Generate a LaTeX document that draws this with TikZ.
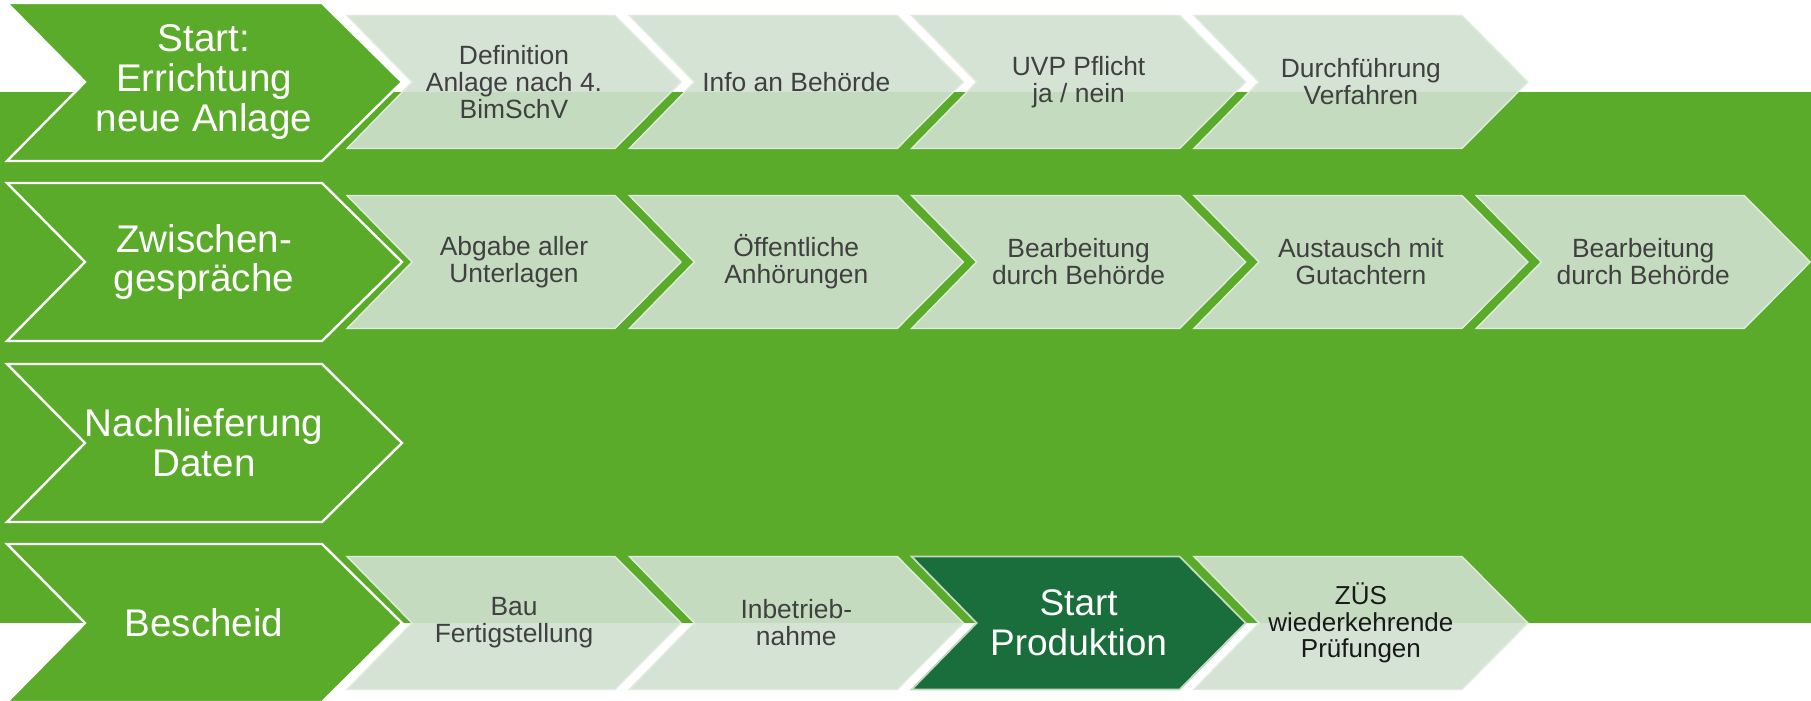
\documentclass[tikz,border=0pt]{standalone}
\usepackage{fontspec}
\setmainfont{Liberation Sans}
\definecolor{bggreen}{RGB}{90,171,41}
\definecolor{lightfill}{RGB}{209,225,208}
\definecolor{lightedge}{RGB}{224,236,221}
\definecolor{darkfill}{RGB}{26,110,60}
\definecolor{darkedge}{RGB}{196,218,190}
\definecolor{txtgray}{RGB}{64,64,64}
\newcommand\bigchev[3]{%
  \begin{scope}[shift={(0,#2)}]
    \path[bigchevstyle] (7,-79) -- (322,-79) -- (402,0) -- (322,79) -- (7,79) -- (85,0) -- cycle;
    \node[bigtext] (#1) at (204,0) {#3};
  \end{scope}}
\newcommand\smallchev[6]{%
  \begin{scope}[shift={(#2,#3)}]
    \path[#4] (0,-66.5) -- (268,-66.5) -- (334,0) -- (268,66.5) -- (0,66.5) -- (65,0) -- cycle;
    \node[#5] (#1) at (167,0) {#6};
  \end{scope}}
\begin{document}
\begin{tikzpicture}[x=0.5pt,y=-0.5pt,
  bigchevstyle/.style={fill=bggreen,draw=white,line width=1.2pt,line join=miter},
  bigtext/.style={text=white,align=center,inner sep=0pt,font=\fontsize{19.3}{19.8}\selectfont},
  lightchev/.style={fill=lightfill,fill opacity=0.9,draw=lightedge,line width=0.7pt},
  darkchev/.style={fill=darkfill,draw=darkedge,line width=0.9pt},
  smalltext/.style={text=txtgray,align=center,inner sep=0pt,font=\fontsize{13.2}{13.5}\selectfont},
  darktext/.style={text=white,align=center,inner sep=0pt,font=\fontsize{18.5}{20}\selectfont},
  blacktext/.style={text=black!90,align=center,inner sep=0pt,font=\fontsize{13}{13.3}\selectfont}]
\useasboundingbox (0,0) rectangle (1811,701);
\fill[white] (0,0) rectangle (1811,701);
\fill[bggreen] (0,92) rectangle (1811,623);
% big chevrons
\bigchev{b1}{82}{Start:\\Errichtung\\neue Anlage}
\bigchev{b2}{262}{Zwischen-\\gespräche}
\bigchev{b3}{443}{Nachlieferung\\Daten}
\bigchev{b4}{623}{Bescheid}
% row 1
\smallchev{r1a}{347}{82}{lightchev}{smalltext}{Definition\\Anlage nach 4.\\BimSchV}
\smallchev{r1b}{629.3}{82}{lightchev}{smalltext}{Info an Behörde}
\smallchev{r1c}{911.6}{82}{lightchev}{smalltext}{UVP Pflicht\\ja / nein}
\smallchev{r1d}{1193.9}{82}{lightchev}{smalltext}{Durchführung\\Verfahren}
% row 2
\smallchev{r2a}{347}{262}{lightchev}{smalltext}{Abgabe aller\\Unterlagen}
\smallchev{r2b}{629.3}{262}{lightchev}{smalltext}{Öffentliche\\Anhörungen}
\smallchev{r2c}{911.6}{262}{lightchev}{smalltext}{Bearbeitung\\durch Behörde}
\smallchev{r2d}{1193.9}{262}{lightchev}{smalltext}{Austausch mit\\Gutachtern}
\smallchev{r2e}{1476.2}{262}{lightchev}{smalltext}{Bearbeitung\\durch Behörde}
% row 4
\smallchev{r4a}{347}{623}{lightchev}{smalltext}{Bau\\Fertigstellung}
\smallchev{r4b}{629.3}{623}{lightchev}{smalltext}{Inbetrieb-\\nahme}
\smallchev{r4c}{911.6}{623}{darkchev}{darktext}{Start\\Produktion}
\smallchev{r4d}{1193.9}{623}{lightchev}{blacktext}{ZÜS\\wiederkehrende\\Prüfungen}
\end{tikzpicture}
\end{document}
